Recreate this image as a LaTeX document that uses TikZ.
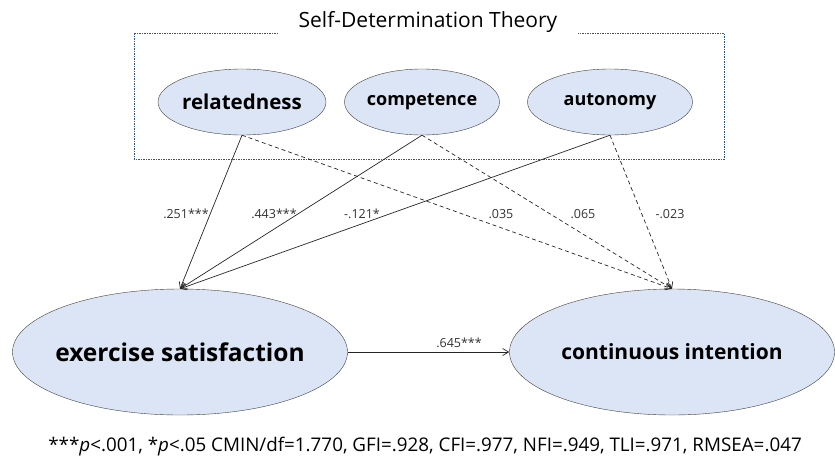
\documentclass[tikz,border=0pt]{standalone}
\usepackage{fontspec}
\setmainfont{Open Sans}
\usepackage{xcolor}
\usetikzlibrary{arrows.meta,shapes.geometric}
\definecolor{ovalfill}{HTML}{DCE5F5}
\definecolor{framecol}{HTML}{2F5597}
\begin{document}
\begin{tikzpicture}[x=1pt,y=-1pt]
			\tikzstyle{factor} = [ellipse, draw=black!75, fill=ovalfill, inner xsep=-40pt, inner ysep=0pt]
			\tikzstyle{coef} = [font=\fontsize{12.5}{15}\selectfont, text=black!80]
			\tikzset{edge/.style = {-{Straight Barb[length=6pt,width=7pt]}, black!85, line width=0.7pt}}
			\tikzset{nsedge/.style = {edge, dash pattern=on 4pt off 3pt}}
			
			\useasboundingbox (0,0) rectangle (835,456);
			\draw[framecol, line width=0.7pt, dash pattern=on 1.5pt off 1pt] (134,33) rectangle (724,159);
			\node[fill=white, inner xsep=21pt, font=\fontsize{21}{24}\selectfont](sdt) at (428,22) {Self-Determination Theory};
			
			\node[factor, minimum width=168pt, minimum height=66pt, font=\fontsize{20.5}{24}\selectfont\bfseries](related) at (242,102) {relatedness};
			\node[factor, minimum width=155pt, minimum height=66pt, font=\fontsize{18}{21}\selectfont\bfseries](compet) at (422,102) {competence};
			\node[factor, minimum width=165pt, minimum height=66pt, font=\fontsize{18}{21}\selectfont\bfseries](auto) at (610,102) {autonomy};
			
			\node[factor, minimum width=335pt, minimum height=126pt, font=\fontsize{24.5}{28}\selectfont\bfseries](satis) at (180,352) {exercise satisfaction};
			\node[factor, minimum width=325pt, minimum height=126pt, font=\fontsize{21}{25}\selectfont\bfseries](intent) at (672,352) {continuous intention};
			
			\draw[edge](related.south) to (satis.north);
			\draw[edge](compet.south) to (satis.north);
			\draw[edge](auto.south) to (satis.north);
			\draw[nsedge](related.south) to (intent.north);
			\draw[nsedge](compet.south) to (intent.north);
			\draw[nsedge](auto.south) to (intent.north);
			\draw[edge](satis.east) to (intent.west);
			
			\node[coef](c1) at (186,214) {.251***};
			\node[coef](c2) at (274,214) {.443***};
			\node[coef](c3) at (362,214) {-.121*};
			\node[coef](c4) at (501,214) {.035};
			\node[coef](c5) at (583,214) {.065};
			\node[coef](c6) at (670,214) {-.023};
			\node[coef](c7) at (459,343) {.645***};
			
			\node[font=\fontsize{18.8}{22}\selectfont](fit) at (425,447) {***\textit{p}<.001, *\textit{p}<.05 CMIN/df=1.770, GFI=.928, CFI=.977, NFI=.949, TLI=.971, RMSEA=.047};
			
\end{tikzpicture}
\end{document}
